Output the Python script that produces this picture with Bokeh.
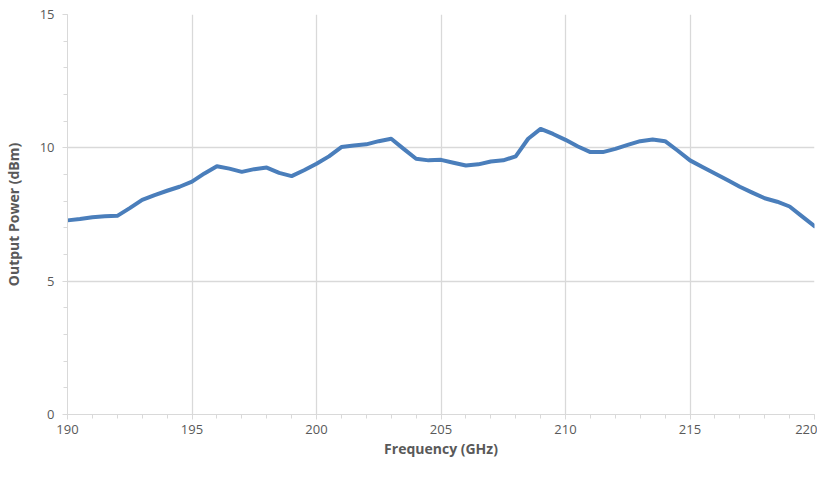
from bokeh.plotting import figure
from bokeh.models import ColumnDataSource, FixedTicker, Range1d
from bokeh.embed import file_html
from bokeh.resources import INLINE

freq_ghz = [190, 190.5, 191, 191.5, 192, 192.5, 193, 193.5, 194, 194.5,
            195, 195.5, 196, 196.5, 197, 197.5, 198, 198.5, 199, 199.5,
            200, 200.5, 201, 201.5, 202, 202.5, 203, 203.5, 204, 204.5,
            205, 205.5, 206, 206.5, 207, 207.5, 208, 208.5, 209, 209.5,
            210, 210.5, 211, 211.5, 212, 212.5, 213, 213.5, 214, 214.5,
            215, 215.5, 216, 216.5, 217, 217.5, 218, 218.5, 219, 219.5, 220]
power_dbm = [7.28, 7.33, 7.40, 7.43, 7.45, 7.74, 8.05, 8.23, 8.39, 8.54,
             8.73, 9.04, 9.31, 9.22, 9.10, 9.20, 9.26, 9.06, 8.94, 9.16,
             9.40, 9.68, 10.03, 10.09, 10.13, 10.25, 10.34, 9.96, 9.59, 9.53,
             9.55, 9.44, 9.34, 9.38, 9.49, 9.53, 9.68, 10.34, 10.71, 10.52,
             10.30, 10.05, 9.84, 9.84, 9.96, 10.11, 10.25, 10.31, 10.25, 9.90,
             9.53, 9.28, 9.04, 8.79, 8.54, 8.32, 8.11, 7.98, 7.80, 7.43, 7.06]
x_ticks = [190, 195, 200, 205, 210, 215, 220]
y_ticks = [0, 5, 10, 15]

src = ColumnDataSource(data=dict(x=freq_ghz, y=power_dbm))

p = figure(width=817, height=464, output_backend="svg", toolbar_location=None,
           x_range=Range1d(190, 220), y_range=Range1d(0, 15),
           min_border_left=67, min_border_right=3, min_border_top=14, min_border_bottom=50)
p.outline_line_color = None
p.background_fill_color = "white"

p.line("x", "y", source=src, line_color="#4a7ebb", line_width=4, line_join="round", line_cap="round")

font = "Open Sans"
grey = "#d9d9d9"
for ax in (p.xaxis[0], p.yaxis[0]):
    ax.axis_line_color = grey
    ax.major_tick_line_color = grey
    ax.minor_tick_line_color = grey
    ax.major_tick_out = 5
    ax.major_tick_in = 0
    ax.minor_tick_out = 4
    ax.minor_tick_in = 0
    ax.major_label_text_font = font
    ax.major_label_text_font_size = "13px"
    ax.major_label_text_color = "#595959"
    ax.axis_label_text_font = font
    ax.axis_label_text_font_size = "14px"
    ax.axis_label_text_font_style = "bold"
    ax.axis_label_text_color = "#595959"

p.xaxis.ticker = FixedTicker(ticks=x_ticks, minor_ticks=list(range(190, 221)))
p.yaxis.ticker = FixedTicker(ticks=y_ticks, minor_ticks=list(range(0, 16)))
p.xaxis.axis_label = "Frequency (GHz)"
p.yaxis.axis_label = "Output Power (dBm)"
p.xaxis.major_label_standoff = 5
p.yaxis.major_label_standoff = 8
p.xaxis.axis_label_standoff = 2
p.yaxis.axis_label_standoff = 14

p.xgrid.ticker = FixedTicker(ticks=x_ticks)
p.ygrid.ticker = FixedTicker(ticks=y_ticks)
p.xgrid.grid_line_color = grey
p.ygrid.grid_line_color = grey
p.xgrid.grid_line_width = 1.3
p.ygrid.grid_line_width = 1.3

open("out.html", "w").write(file_html(p, INLINE))
